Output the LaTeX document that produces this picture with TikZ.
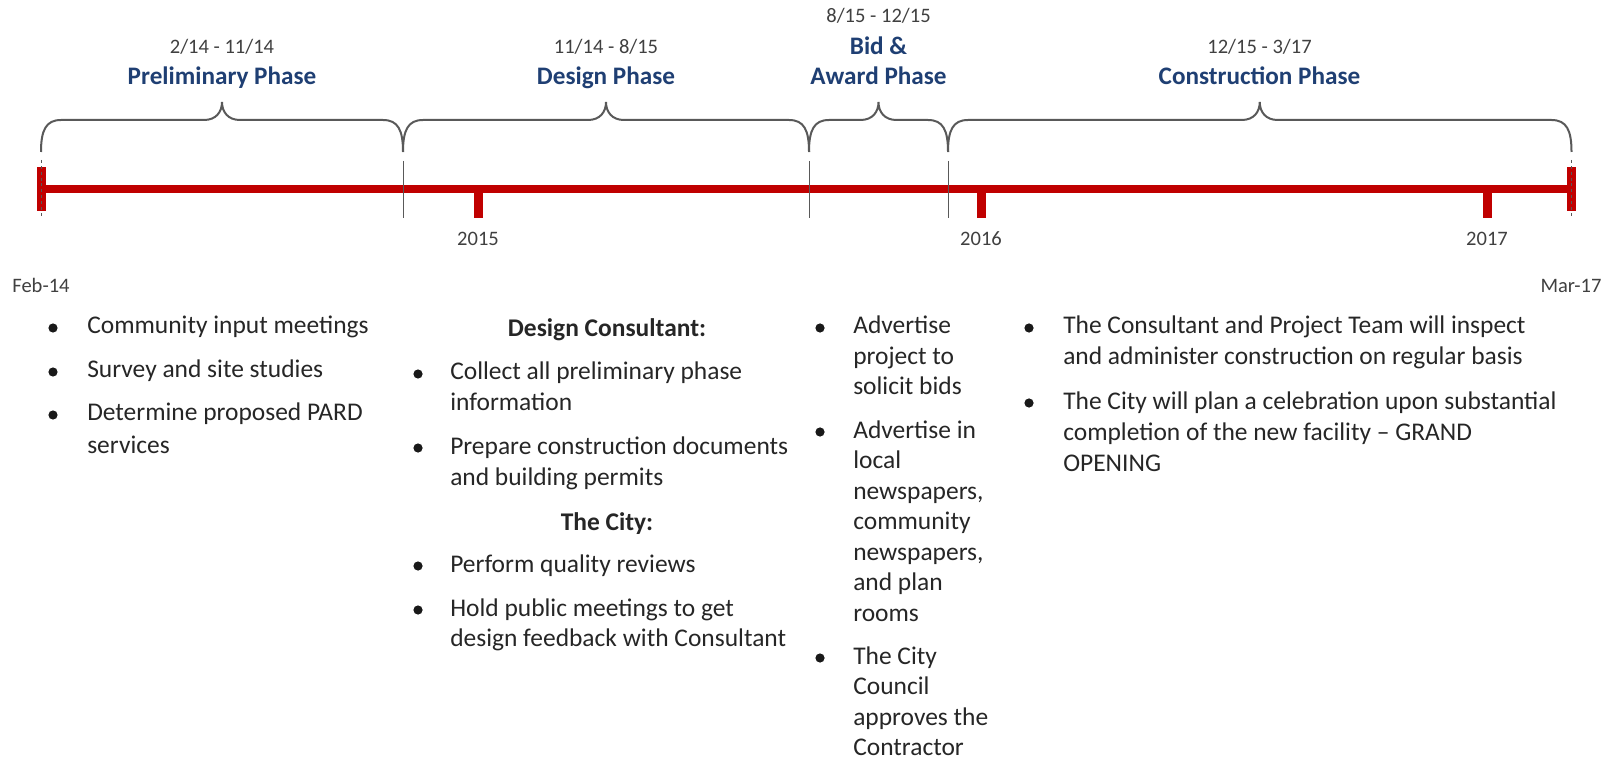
\documentclass[tikz,border=0pt]{standalone}
\usepackage{fontspec}
\setmainfont{Carlito}
\definecolor{tlred}{HTML}{C00000}
\definecolor{phaseblue}{HTML}{1F3F73}
\definecolor{bracegray}{HTML}{595959}
\definecolor{txt}{HTML}{262626}
\definecolor{smalltxt}{HTML}{404040}
\newcommand{\phasebrace}[2]{%
  \pgfmathsetmacro{\bm}{(#1+#2)/2}%
  \draw[brace] (#1,152) .. controls (#1,130) and (#1+5,120) .. (#1+20,120)
    -- (\bm-18,120) .. controls (\bm-6,120) and (\bm,112) .. (\bm,102)
    .. controls (\bm,112) and (\bm+6,120) .. (\bm+18,120)
    -- (#2-20,120) .. controls (#2-5,120) and (#2,130) .. (#2,152);}
\begin{document}
\begin{tikzpicture}[x=0.75pt,y=-0.75pt,
  body/.style={font=\fontsize{19.1}{23}\selectfont, text=txt, inner sep=0pt, anchor=base west},
  head/.style={font=\fontsize{19.1}{23}\selectfont\bfseries, text=txt, inner sep=0pt, anchor=base},
  phase/.style={font=\fontsize{18.9}{23}\selectfont\bfseries, text=phaseblue, inner sep=0pt, anchor=base},
  lbl/.style={font=\fontsize{15.4}{18}\selectfont, text=smalltxt, inner sep=0pt, anchor=base},
  bul/.style={circle, fill=black!90, inner sep=0pt, minimum size=6.9pt},
  brace/.style={draw=bracegray, line width=1.5pt},
  divider/.style={draw=bracegray, line width=0.7pt},
  capdash/.style={draw=bracegray, line width=0.6pt, dash pattern=on 2.2pt off 2.2pt}
]
\path[use as bounding box] (0,0) rectangle (1608,762);

% timeline bar, caps and year ticks
\fill[tlred] (41,185) rectangle (1571,193);
\fill[tlred] (37,167) rectangle (46,211);
\fill[tlred] (1567,167) rectangle (1576,211);
\fill[tlred] (473.5,189) rectangle (482.5,218);
\fill[tlred] (976.5,189) rectangle (985.5,218);
\fill[tlred] (1482.5,189) rectangle (1491.5,218);
\draw[capdash] (41,160) -- (41,216);
\draw[capdash] (1571.5,160) -- (1571.5,216);

% phase dividers
\draw[divider] (403,161) -- (403,218);
\draw[divider] (809,161) -- (809,218);
\draw[divider] (948,161) -- (948,218);

% braces
\phasebrace{41}{403}
\phasebrace{403}{809}
\phasebrace{809}{948}
\phasebrace{948}{1571.5}

% phase headers
\node[lbl] (d1) at (222,54) {2/14 - 11/14};
\node[phase] (p1) at (222,85) {Preliminary Phase};
\node[lbl] (d2) at (606,54) {11/14 - 8/15};
\node[phase] (p2) at (606,85) {Design Phase};
\node[lbl] (d3) at (878.5,23) {8/15 - 12/15};
\node[phase] (p3a) at (878.5,55) {Bid \&};
\node[phase] (p3b) at (878.5,85) {Award Phase};
\node[lbl] (d4) at (1259.5,54) {12/15 - 3/17};
\node[phase] (p4) at (1259.5,85) {Construction Phase};

% axis labels
\node[lbl] (y15) at (478,246) {2015};
\node[lbl] (y16) at (981,246) {2016};
\node[lbl] (y17) at (1487,246) {2017};
\node[lbl] (feb) at (41,293) {Feb-14};
\node[lbl] (mar) at (1571,293) {Mar-17};

% column 1
\node[bul] (c1b1) at (53,328) {};
\node[body] (c1a) at (87,334) {Community input meetings};
\node[bul] (c1b2) at (53,372) {};
\node[body] (c1b) at (87,378) {Survey and site studies};
\node[bul] (c1b3) at (53,415) {};
\node[body] (c1c) at (87,421) {Determine proposed PARD};
\node[body] (c1d) at (87,453) {services};

% column 2
\node[head] (c2h1) at (607,337) {Design Consultant:};
\node[bul] (c2b1) at (418,374) {};
\node[body] (c2a) at (450,380) {Collect all preliminary phase};
\node[body] (c2b) at (450,411) {information};
\node[bul] (c2b2) at (418,448) {};
\node[body] (c2c) at (450,454) {Prepare construction documents};
\node[body] (c2d) at (450,485) {and building permits};
\node[head] (c2h2) at (607,530) {The City:};
\node[bul] (c2b3) at (418,566) {};
\node[body] (c2e) at (450,572) {Perform quality reviews};
\node[bul] (c2b4) at (418,610) {};
\node[body] (c2f) at (450,616) {Hold public meetings to get};
\node[body] (c2g) at (450,646) {design feedback with Consultant};

% column 3
\node[bul] (c3b1) at (820,328) {};
\node[body] (c3a) at (853,334) {Advertise};
\node[body] (c3b) at (853,364.5) {project to};
\node[body] (c3c) at (853,395) {solicit bids};
\node[bul] (c3b2) at (820,432) {};
\node[body] (c3d) at (853,438) {Advertise in};
\node[body] (c3e) at (853,468.5) {local};
\node[body] (c3f) at (853,499) {newspapers,};
\node[body] (c3g) at (853,529.5) {community};
\node[body] (c3h) at (853,560) {newspapers,};
\node[body] (c3i) at (853,590.5) {and plan};
\node[body] (c3j) at (853,621) {rooms};
\node[bul] (c3b3) at (820,658) {};
\node[body] (c3k) at (853,664) {The City};
\node[body] (c3l) at (853,694.5) {Council};
\node[body] (c3m) at (853,725) {approves the};
\node[body] (c3n) at (853,755) {Contractor};

% column 4
\node[bul] (c4b1) at (1029,328) {};
\node[body] (c4a) at (1063,334) {The Consultant and Project Team will inspect};
\node[body] (c4b) at (1063,365) {and administer construction on regular basis};
\node[bul] (c4b2) at (1029,403) {};
\node[body] (c4c) at (1063,409) {The City will plan a celebration upon substantial};
\node[body] (c4d) at (1063,440) {completion of the new facility – GRAND};
\node[body] (c4e) at (1063,471) {OPENING};
\end{tikzpicture}
\end{document}
